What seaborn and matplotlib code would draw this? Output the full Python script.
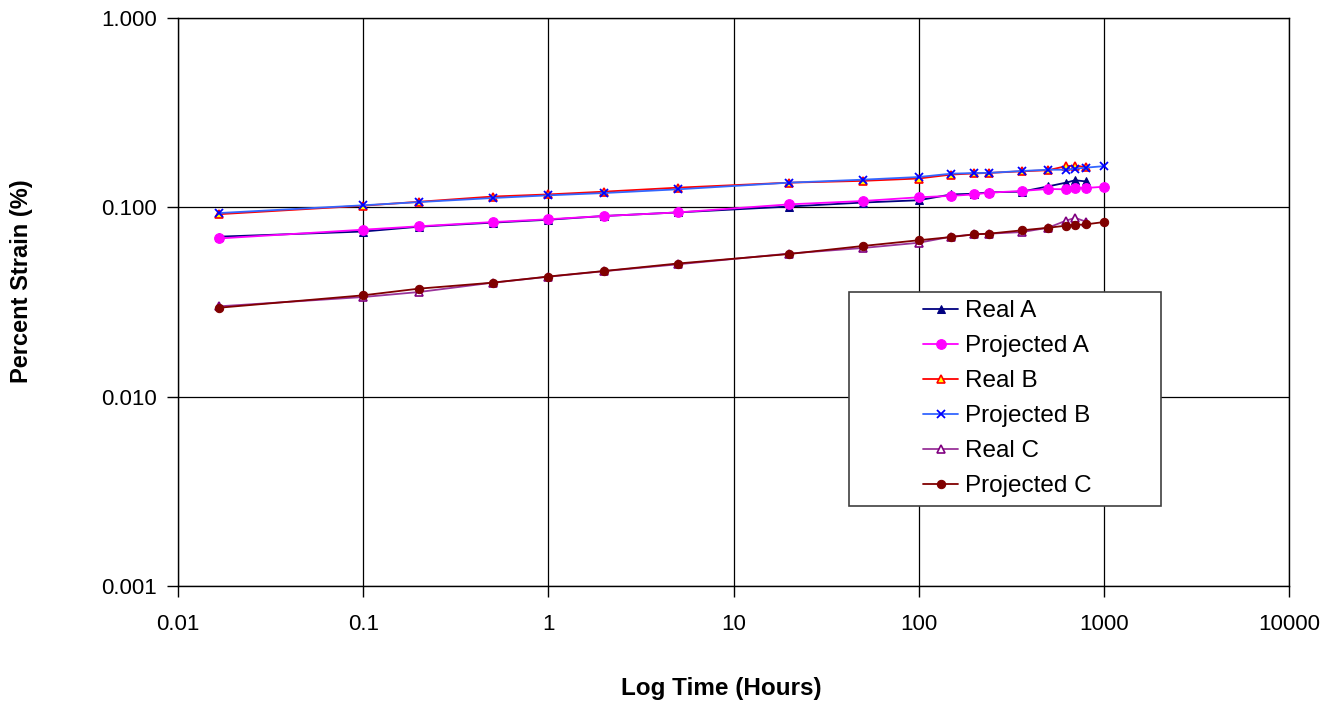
import numpy as np
import pandas as pd
import matplotlib
matplotlib.use("Agg")
import matplotlib.pyplot as plt
import matplotlib.ticker as mticker
from matplotlib.patches import Rectangle
import seaborn as sns

# time points (hours)
hours_real = [0.0167, 0.1, 0.2, 0.5, 1, 2, 5, 20, 50, 100, 150, 200, 240, 360, 500, 624, 700, 800]
hours_proj = [0.0167, 0.1, 0.2, 0.5, 1, 2, 5, 20, 50, 100, 150, 200, 240, 360, 500, 624, 700, 800, 1000]

# percent strain
real_a = [0.070, 0.0745, 0.079, 0.083, 0.086, 0.090, 0.094, 0.101, 0.106, 0.109, 0.117, 0.118, 0.120,
          0.121, 0.129, 0.135, 0.139, 0.137]
proj_a = [0.0685, 0.0762, 0.0794, 0.0836, 0.0865, 0.090, 0.094, 0.1037, 0.108, 0.113, 0.115, 0.117, 0.1196,
          0.122, 0.125, 0.1245, 0.127, 0.1265, 0.1285]
real_b = [0.092, 0.102, 0.107, 0.114, 0.117, 0.121, 0.127, 0.135, 0.138, 0.142, 0.149, 0.151, 0.152,
          0.155, 0.157, 0.165, 0.166, 0.163]
proj_b = [0.0933, 0.1025, 0.1066, 0.112, 0.1157, 0.119, 0.1245, 0.135, 0.140, 0.1446, 0.1506, 0.1517, 0.152,
          0.1556, 0.158, 0.158, 0.160, 0.162, 0.165]
real_c = [0.030, 0.0336, 0.0357, 0.040, 0.043, 0.046, 0.050, 0.057, 0.061, 0.065, 0.070, 0.072, 0.0726,
          0.074, 0.078, 0.085, 0.088, 0.084]
proj_c = [0.0295, 0.0343, 0.0372, 0.040, 0.0431, 0.0461, 0.0505, 0.0567, 0.0625, 0.067, 0.0697, 0.072, 0.0726,
          0.0756, 0.078, 0.080, 0.0807, 0.0813, 0.0836]

x_ticks = [0.01, 0.1, 1, 10, 100, 1000, 10000]
y_ticks = [0.001, 0.01, 0.1, 1.0]

sns.set_style("white")
plt.rcParams['font.family'] = ['Liberation Sans', 'DejaVu Sans']
plt.rcParams['text.color'] = 'black'
plt.rcParams['xtick.color'] = 'black'
plt.rcParams['ytick.color'] = 'black'

fig = plt.figure(figsize=(13.39, 7.05), dpi=100)
ax = fig.add_axes([178 / 1339, 1 - 586 / 705, 1111 / 1339, 568 / 705])

series = [
    ("Real A", hours_real, real_a, dict(color="#000080", marker="^", markersize=6,
                                         markerfacecolor="#000080", markeredgecolor="#000080")),
    ("Projected A", hours_proj, proj_a, dict(color="#FF00FF", marker="o", markersize=7,
                                              markerfacecolor="#FF00FF", markeredgecolor="#FF00FF")),
    ("Real B", hours_real, real_b, dict(color="#FF0000", marker="^", markersize=6,
                                         markerfacecolor="#FFFF00", markeredgecolor="#FF0000",
                                         markeredgewidth=1.2)),
    ("Projected B", hours_proj, proj_b, dict(color="#3366FF", marker="x", markersize=6,
                                              markeredgecolor="#0000FF", markeredgewidth=1.3)),
    ("Real C", hours_real, real_c, dict(color="#993399", marker="^", markersize=6,
                                         markerfacecolor="white", markeredgecolor="#800080",
                                         markeredgewidth=1.2)),
    ("Projected C", hours_proj, proj_c, dict(color="#800000", marker="o", markersize=6,
                                              markerfacecolor="#800000", markeredgecolor="#800000")),
]

for name, xs, ys, style in series:
    df = pd.DataFrame({"hours": xs, "strain": ys})
    sns.lineplot(data=df, x="hours", y="strain", ax=ax, label=name, linewidth=1.3,
                 sort=False, estimator=None, **style)

ax.set_xscale("log")
ax.set_yscale("log")
ax.set_xlim(0.01, 10000)
ax.set_ylim(0.001, 1.0)
ax.xaxis.set_major_locator(mticker.FixedLocator(x_ticks))
ax.yaxis.set_major_locator(mticker.FixedLocator(y_ticks))
ax.xaxis.set_minor_locator(mticker.NullLocator())
ax.yaxis.set_minor_locator(mticker.NullLocator())
ax.xaxis.set_major_formatter(mticker.FuncFormatter(lambda v, p: f"{v:g}"))
ax.yaxis.set_major_formatter(mticker.FuncFormatter(lambda v, p: f"{v:.3f}"))
ax.tick_params(axis="both", which="major", direction="out", length=8, width=1,
               color="black", labelcolor="black", labelsize=16, bottom=True, left=True)
ax.tick_params(axis="y", pad=7)
ax.tick_params(axis="x", pad=12)
ax.grid(True, which="major", color="black", linewidth=0.9)
for s in ax.spines.values():
    s.set_color("black")
    s.set_linewidth(1)
ax.set_xlabel("")
ax.set_ylabel("")

fig.text(721 / 1339, 1 - 688 / 705, "Log Time (Hours)", ha="center", va="center",
         fontsize=17.5, fontweight="bold", color="black")
fig.text(22 / 1339, 1 - 281 / 705, "Percent Strain (%)", ha="center", va="center",
         rotation=90, fontsize=17, fontweight="bold", color="black")

# legend box drawn separately, Excel style with wide left padding
box = Rectangle((671 / 1111, 80 / 568), 312 / 1111, 214 / 568, transform=ax.transAxes,
                facecolor="white", edgecolor="#404040", linewidth=1.2, zorder=4)
ax.add_patch(box)
leg = ax.legend(loc="upper left", bbox_to_anchor=((923 - 178) / 1111, (586 - 300) / 568),
                frameon=False, fontsize=17.5, handlelength=1.45, handletextpad=0.28,
                labelspacing=0.535, borderpad=0, borderaxespad=0)
leg.set_zorder(5)
for t in leg.get_texts():
    t.set_color("black")

fig.savefig("out.png", dpi=100)
